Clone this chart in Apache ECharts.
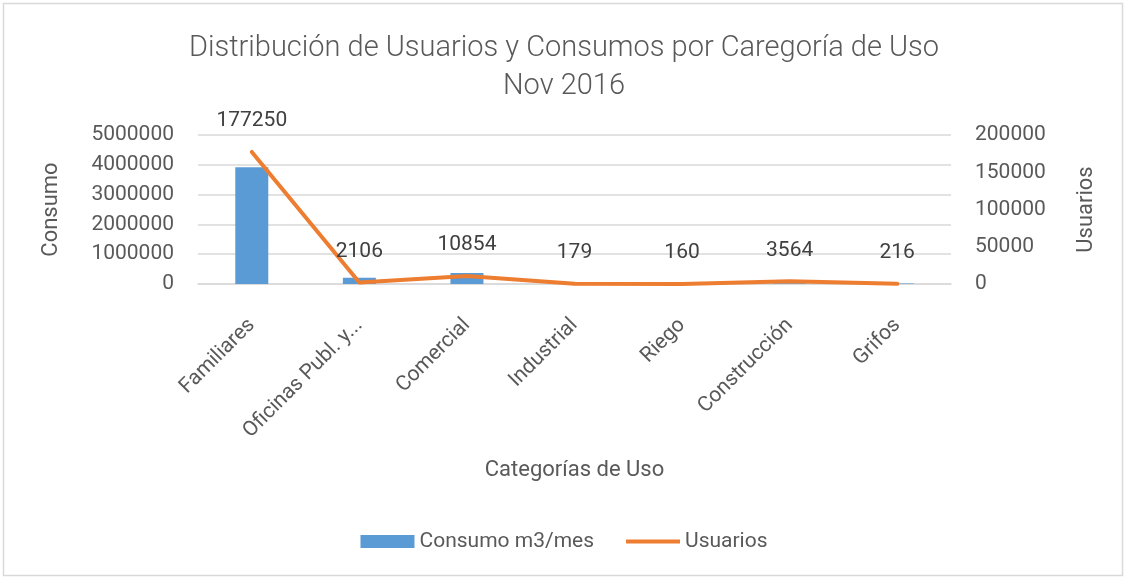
<!DOCTYPE html>
<html>
<head>
    <meta charset="UTF-8">
    <title>Distribución de Usuarios y Consumos</title>
    <style type="text/css">
        html, body {
            margin: 0;
            padding: 0;
            background: #fff;
        }
        #chart {
            width: 1128px;
            height: 579px;
        }
    </style>
    <script type="text/javascript" src="https://cdn.jsdelivr.net/npm/echarts@6/dist/echarts.min.js"></script>
</head>
<body>
<div id="chart"></div>
<script>
    // datos
    let categorias = ['Familiares', 'Oficinas Publ. y...', 'Comercial', 'Industrial', 'Riego', 'Construcción', 'Grifos'];
    let consumo = [3920000, 210000, 370000, 15000, 5000, 25000, 20000];
    let usuarios = [177250, 2106, 10854, 179, 160, 3564, 216];

    let fuente = 'Roboto, "Open Sans", sans-serif';
    let gris = '#595959';
    let myChart = echarts.init(document.getElementById('chart'));

    function sinComas(v) {
        return String(v);
    }

    let option = {
        backgroundColor: '#fff',
        textStyle: {
            fontFamily: fuente,
            color: gris
        },
        graphic: [
            {
                type: 'rect',
                shape: {x: 3.5, y: 3.5, width: 1119, height: 572},
                style: {fill: 'none', stroke: '#d9d9d9', lineWidth: 1.5},
                silent: true
            }
        ],
        title: {
            text: 'Distribución de Usuarios y Consumos por Caregoría de Uso\nNov 2016',
            left: 'center',
            top: 25,
            textStyle: {
                fontFamily: fuente,
                fontWeight: 300,
                fontSize: 29,
                lineHeight: 38,
                color: gris
            }
        },
        legend: {
            bottom: 22,
            left: 'center',
            itemWidth: 54,
            itemHeight: 13,
            itemGap: 32,
            textStyle: {
                fontFamily: fuente,
                fontSize: 21,
                color: gris,
                padding: [0, 0, 0, 0]
            },
            data: [
                {name: 'Consumo m3/mes', icon: 'rect'},
                {name: 'Usuarios', icon: 'path://M0,0H54V4H0Z'}
            ]
        },
        grid: {
            left: 198,
            right: 177,
            top: 135,
            bottom: 295,
            containLabel: false
        },
        xAxis: {
            type: 'category',
            data: categorias,
            name: 'Categorías de Uso',
            nameLocation: 'middle',
            nameGap: 175,
            nameTextStyle: {
                fontFamily: fuente,
                fontSize: 22,
                color: gris
            },
            axisLine: {lineStyle: {color: '#d9d9d9', width: 1.5}},
            axisTick: {show: false},
            axisLabel: {
                rotate: 45,
                margin: 38,
                interval: 0,
                fontFamily: fuente,
                fontSize: 21,
                color: gris
            }
        },
        yAxis: [
            {
                type: 'value',
                min: 0,
                max: 5000000,
                interval: 1000000,
                name: 'Consumo',
                nameLocation: 'middle',
                nameGap: 136,
                nameTextStyle: {
                    fontFamily: fuente,
                    fontSize: 22,
                    color: gris
                },
                axisLine: {show: false},
                axisTick: {show: false},
                axisLabel: {
                    margin: 24,
                    fontFamily: fuente,
                    fontSize: 21,
                    color: gris,
                    formatter: sinComas
                },
                splitLine: {lineStyle: {color: '#d9d9d9', width: 1.5}}
            },
            {
                type: 'value',
                min: 0,
                max: 200000,
                interval: 50000,
                name: 'Usuarios',
                nameLocation: 'middle',
                nameGap: 124,
                nameTextStyle: {
                    fontFamily: fuente,
                    fontSize: 22,
                    color: gris
                },
                axisLine: {show: false},
                axisTick: {show: false},
                axisLabel: {
                    margin: 24,
                    fontFamily: fuente,
                    fontSize: 21,
                    color: gris,
                    formatter: sinComas
                },
                splitLine: {show: false}
            }
        ],
        series: [
            {
                name: 'Consumo m3/mes',
                type: 'bar',
                yAxisIndex: 0,
                barWidth: 33,
                itemStyle: {color: '#5B9BD5'},
                data: consumo
            },
            {
                name: 'Usuarios',
                type: 'line',
                yAxisIndex: 1,
                smooth: false,
                symbol: 'circle',
                symbolSize: 1,
                itemStyle: {color: '#ED7D31'},
                lineStyle: {color: '#ED7D31', width: 4, cap: 'round', join: 'round'},
                label: {
                    show: true,
                    position: 'top',
                    distance: 20,
                    fontFamily: fuente,
                    fontSize: 21,
                    color: '#404040'
                },
                data: usuarios
            }
        ]
    };
    myChart.setOption(option);
</script>
</body>
</html>
